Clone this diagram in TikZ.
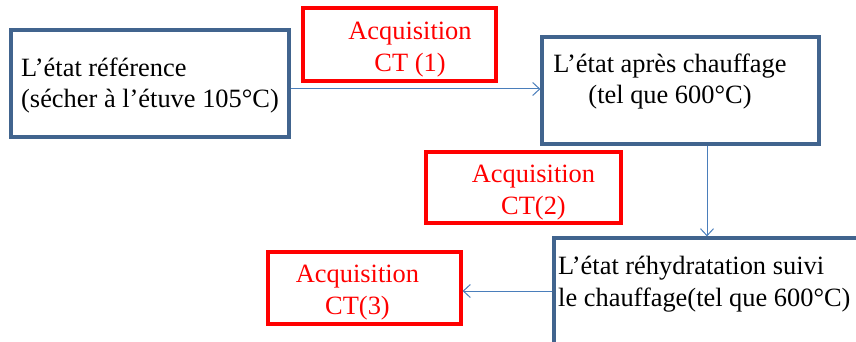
\documentclass[tikz,border=0pt]{standalone}
\usepackage{fontspec}
\setmainfont{Liberation Serif}
\usetikzlibrary{arrows.meta}
\definecolor{boxblue}{HTML}{41648E}
\definecolor{arrowblue}{HTML}{4A7EBB}
\definecolor{acqred}{HTML}{FF0000}
\begin{document}
\begin{tikzpicture}[x=1pt,y=-1pt,
  state/.style={draw=boxblue,line width=3.2pt,rectangle,inner sep=0},
  acq/.style={draw=acqred,line width=3.2pt,rectangle,inner sep=0},
  txt/.style={inner sep=0,font=\fontsize{26.4}{32}\selectfont},
  acqtxt/.style={txt,text=acqred,align=center,anchor=base},
  flow/.style={draw=arrowblue,line width=1pt,-{Straight Barb[length=7pt,width=13pt]}}]
\useasboundingbox (0,0) rectangle (856,342);
\clip (0,0) rectangle (856,342);
% state boxes
\node[state,minimum width=278pt,minimum height=107pt] (A) at (150,83.5) {};
\node[state,minimum width=277pt,minimum height=107pt] (B) at (680.5,90.5) {};
\node[state,minimum width=316pt,minimum height=132pt] (C) at (712,304) {};
\node[txt,align=left,anchor=base west] (At) at (21,108) {L’état référence\\(sécher à l’étuve 105°C)};
\node[txt,align=center,anchor=base] (Bt) at (670,104) {L’état après chauffage\\(tel que 600°C)};
\node[txt,align=left,anchor=base west] (Ct) at (558,306) {L’état réhydratation suivi\\le chauffage(tel que 600°C)};
% acquisition boxes
\node[acq,minimum width=193pt,minimum height=73pt] (R1) at (399.5,44.5) {};
\node[acq,minimum width=195pt,minimum height=71pt] (R2) at (523.5,187.5) {};
\node[acq,minimum width=193pt,minimum height=72pt] (R3) at (364.5,288) {};
\node[acqtxt] (R1t) at (410,72) {Acquisition\\CT (1)};
\node[acqtxt] (R2t) at (533.5,214) {Acquisition\\CT(2)};
\node[acqtxt] (R3t) at (357.5,314) {Acquisition\\CT(3)};
% connectors
\draw[flow] ([yshift=-5.5pt]A.east) -- ([yshift=-5.5pt]A.east -| B.west);
\draw[flow] ([xshift=26.5pt]B.south) -- ([xshift=26.5pt]B.south |- C.north);
\draw[flow] ([yshift=-3pt]R3.east -| C.west) -- ([yshift=-3pt]R3.east);
\end{tikzpicture}
\end{document}
